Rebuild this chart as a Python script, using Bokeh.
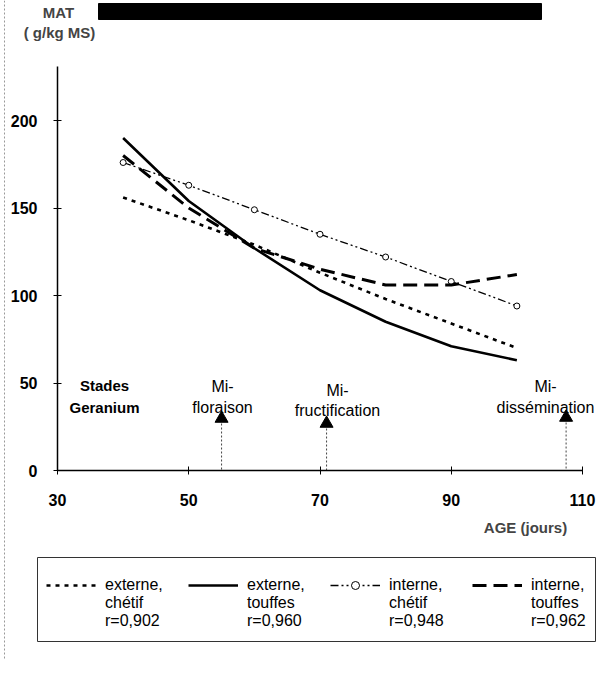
from bokeh.plotting import figure
from bokeh.models import Range1d, Legend, LegendItem, Label, FixedTicker, Span
from bokeh.embed import file_html
from bokeh.resources import INLINE
from bokeh.core.properties import value

# ---------------- data ----------------
age = [40, 50, 60, 70, 80, 90, 100]
externe_chetif = [156, 143, 129, 113, 98, 84, 70]
externe_touffes = [190, 154, 127, 103, 85, 71, 63]
interne_chetif = [176, 163, 149, 135, 122, 108, 94]
interne_touffes = [180, 150, 127, 115, 106, 106, 112]

series_name = ["externe,", "externe,", "interne,", "interne,"]
series_type = ["chétif", "touffes", "chétif", "touffes"]
series_r = ["r=0,902", "r=0,960", "r=0,948", "r=0,962"]

x_ticks = [30, 50, 70, 90, 110]
y_ticks = [0, 50, 100, 150, 200]

stage_age = [55, 71, 107.5]
stage_line1 = ["Mi-", "Mi-", "Mi-"]
stage_line2 = ["floraison", "fructification", "dissémination"]

FONT = value("Liberation Sans")
W, H = 596, 659

# pixel geometry (canvas): age 30 -> 57 px, 6.5625 px / day ; MAT 0 -> 470 px, 1.75 px / unit
PX0, PXS = 57.0, 6.5625
PY0, PYS = 470.0, 1.75


def dx(px):
    return 30 + (px - PX0) / PXS


def dy(py):
    return (PY0 - py) / PYS


p = figure(width=W, height=H, output_backend="svg", toolbar_location=None,
           x_range=Range1d(dx(0), dx(W)), y_range=Range1d(dy(H), dy(0)),
           min_border=0, min_border_left=0, min_border_right=0,
           min_border_top=0, min_border_bottom=0)
p.outline_line_color = None
p.grid.visible = False
p.background_fill_color = "white"
p.border_fill_color = "white"

for ax in (p.xaxis[0], p.yaxis[0]):
    ax.axis_line_color = "black"
    ax.axis_line_width = 1.5
    ax.major_tick_line_color = "black"
    ax.major_tick_line_width = 1
    ax.major_tick_in = 4
    ax.major_tick_out = 4
    ax.minor_tick_line_color = None
    ax.major_label_text_font = "Liberation Sans"
    ax.major_label_text_font_style = "bold"
    ax.major_label_text_font_size = "16px"
    ax.major_label_text_color = "black"

p.xaxis.fixed_location = 0
p.yaxis.fixed_location = 30
p.xaxis.bounds = (30, 110)
p.yaxis.bounds = (0, 231)
p.xaxis.ticker = FixedTicker(ticks=x_ticks)
p.yaxis.ticker = FixedTicker(ticks=y_ticks)
p.xaxis.major_label_standoff = 19
p.yaxis.major_label_standoff = 16

# scanned page edge on the left
p.add_layout(Span(location=dx(4), dimension="height", line_color="#999999",
                  line_width=1, line_dash="2 2"))

# ---------------- series ----------------
r1 = p.line(age, externe_chetif, line_color="black", line_width=2.6, line_dash="4 5")
r2 = p.line(age, externe_touffes, line_color="black", line_width=2.6)
r3 = p.line(age, interne_chetif, line_color="black", line_width=1.3, line_dash="8 3 2 3 2 3")
r3m = p.scatter(age, interne_chetif, marker="circle", size=6, fill_color="white",
                line_color="black", line_width=1)
r4 = p.line(age, interne_touffes, line_color="black", line_width=3, line_dash="14 7")

# ---------------- stage annotations ----------------
p.text(x=[dx(104), dx(104)], y=[dy(385), dy(407)], text=["Stades", "Geranium"],
       text_font=FONT, text_font_style="bold", text_font_size="15px",
       text_align="center", text_baseline="middle", text_color="black")

text_px = [222, 337, 545]
line1_py = [386, 390, 386]
line2_py = [407, 410, 407]
p.text(x=[dx(v) for v in text_px], y=[dy(v) for v in line1_py], text=stage_line1,
       text_font=FONT, text_font_size="16px", text_align="center",
       text_baseline="middle", text_color="black")
p.text(x=[dx(v) for v in text_px], y=[dy(v) for v in line2_py], text=stage_line2,
       text_font=FONT, text_font_size="16px", text_align="center",
       text_baseline="middle", text_color="black")

arrow_py = [418, 423, 417]
p.segment(x0=stage_age, y0=[dy(v + 5) for v in arrow_py], x1=stage_age, y1=[0] * 3,
          line_color="#444444", line_width=1, line_dash="2 2")
p.scatter(x=stage_age, y=[dy(v) for v in arrow_py], marker="triangle", size=13,
          fill_color="black", line_color="black")

# ---------------- titles ----------------
p.add_layout(Label(x=dx(58), y=dy(12), text="MAT", text_font="Liberation Sans",
                   text_font_style="bold", text_font_size="15px",
                   text_align="center", text_baseline="middle"))
p.add_layout(Label(x=dx(59), y=dy(32), text="( g/kg MS)", text_font="Liberation Sans",
                   text_font_style="bold", text_font_size="15px",
                   text_align="center", text_baseline="middle"))
p.add_layout(Label(x=dx(525), y=dy(527), text="AGE (jours)", text_font="Liberation Sans",
                   text_font_style="bold", text_font_size="15px",
                   text_align="center", text_baseline="middle"))

# black bar at the top (scanned heading)
p.quad(left=[dx(98)], right=[dx(541)], bottom=[dy(19)], top=[dy(3)],
       fill_color="black", line_color="black")

# ---------------- legend ----------------
# frame of the legend box
p.quad(left=[dx(37)], right=[dx(595)], bottom=[dy(641)], top=[dy(557)],
       fill_color=None, line_color="#333333", line_width=1)

labels = ["\n\n" + "\n".join(t) for t in zip(series_name, series_type, series_r)]
legend = Legend(items=[
    LegendItem(label=labels[0], renderers=[r1]),
    LegendItem(label=labels[1], renderers=[r2]),
    LegendItem(label=labels[2], renderers=[r3, r3m]),
    LegendItem(label=labels[3], renderers=[r4]),
], orientation="horizontal", location=(46, 29))
legend.padding = 10
legend.spacing = 18
legend.margin = 0
legend.glyph_width = 50
legend.glyph_height = 20
legend.label_standoff = 9
legend.label_width = 65
legend.label_text_font = "Liberation Sans"
legend.label_text_font_size = "16px"
legend.label_text_color = "black"
legend.label_text_line_height = 1.15
legend.border_line_color = None
legend.background_fill_alpha = 0
p.add_layout(legend)

open("out.html", "w").write(file_html(p, INLINE))
